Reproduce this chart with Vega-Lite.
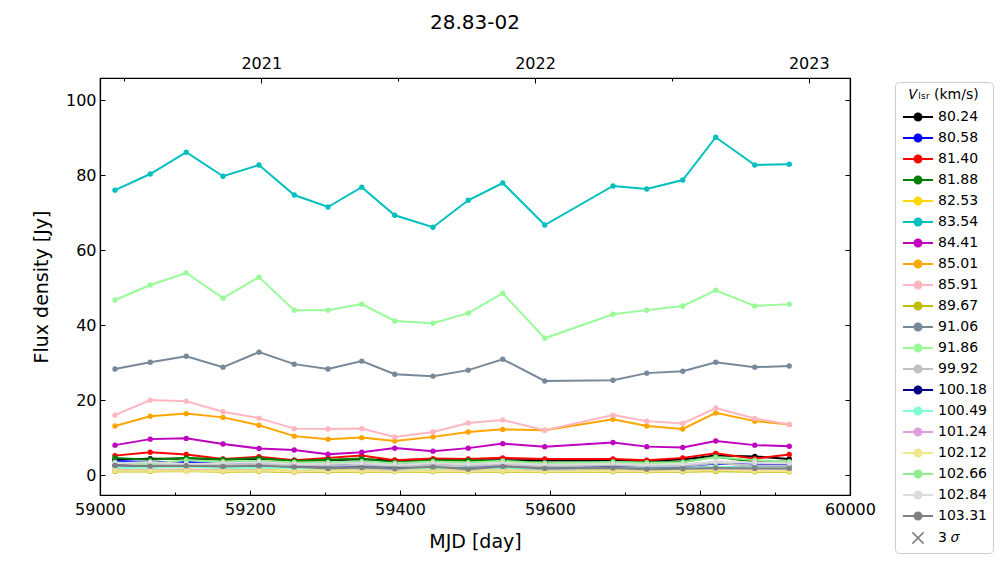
{
  "$schema": "https://vega.github.io/schema/vega-lite/v6.json",
  "autosize": "none",
  "width": 750,
  "height": 417,
  "padding": {"left": 100, "top": 78, "right": 150, "bottom": 67},
  "background": "white",
  "title": {"text": "28.83-02", "fontSize": 20, "fontWeight": "normal", "font": "DejaVu Sans", "color": "black", "anchor": "middle", "offset": 22},
  "config": {
    "font": "DejaVu Sans",
    "view": {"stroke": "black", "strokeWidth": 1.2},
    "axis": {"grid": false, "labelFlush": false, "domainColor": "black", "domainWidth": 1.2, "tickColor": "black", "tickWidth": 1, "labelColor": "black", "labelFont": "DejaVu Sans", "labelFontSize": 16, "titleFont": "DejaVu Sans", "titleFontSize": 19, "titleFontWeight": "normal", "titleColor": "black"}
  },
  "datasets": {
    "flux": [
      {"mjd":59020,"vlsr":"80.24","flux":4.2},{"mjd":59067,"vlsr":"80.24","flux":4.4},{"mjd":59115,"vlsr":"80.24","flux":4.4},{"mjd":59164,"vlsr":"80.24","flux":4.2},{"mjd":59212,"vlsr":"80.24","flux":4.3},{"mjd":59259,"vlsr":"80.24","flux":4.0},{"mjd":59304,"vlsr":"80.24","flux":4.0},{"mjd":59349,"vlsr":"80.24","flux":4.2},{"mjd":59393,"vlsr":"80.24","flux":4.0},{"mjd":59444,"vlsr":"80.24","flux":4.2},{"mjd":59491,"vlsr":"80.24","flux":4.0},{"mjd":59537,"vlsr":"80.24","flux":4.0},{"mjd":59593,"vlsr":"80.24","flux":4.0},{"mjd":59684,"vlsr":"80.24","flux":4.0},{"mjd":59729,"vlsr":"80.24","flux":3.8},{"mjd":59777,"vlsr":"80.24","flux":4.2},{"mjd":59821,"vlsr":"80.24","flux":5.2},{"mjd":59873,"vlsr":"80.24","flux":5.0},{"mjd":59919,"vlsr":"80.24","flux":4.3},
      {"mjd":59020,"vlsr":"80.58","flux":3.8},{"mjd":59067,"vlsr":"80.58","flux":3.5},{"mjd":59115,"vlsr":"80.58","flux":3.5},{"mjd":59164,"vlsr":"80.58","flux":3.0},{"mjd":59212,"vlsr":"80.58","flux":3.1},{"mjd":59259,"vlsr":"80.58","flux":2.9},{"mjd":59304,"vlsr":"80.58","flux":2.8},{"mjd":59349,"vlsr":"80.58","flux":3.2},{"mjd":59393,"vlsr":"80.58","flux":3.0},{"mjd":59444,"vlsr":"80.58","flux":2.8},{"mjd":59491,"vlsr":"80.58","flux":2.6},{"mjd":59537,"vlsr":"80.58","flux":2.6},{"mjd":59593,"vlsr":"80.58","flux":2.6},{"mjd":59684,"vlsr":"80.58","flux":2.6},{"mjd":59729,"vlsr":"80.58","flux":2.3},{"mjd":59777,"vlsr":"80.58","flux":2.4},{"mjd":59821,"vlsr":"80.58","flux":3.0},{"mjd":59873,"vlsr":"80.58","flux":2.8},{"mjd":59919,"vlsr":"80.58","flux":2.7},
      {"mjd":59020,"vlsr":"81.40","flux":5.2},{"mjd":59067,"vlsr":"81.40","flux":6.1},{"mjd":59115,"vlsr":"81.40","flux":5.5},{"mjd":59164,"vlsr":"81.40","flux":4.3},{"mjd":59212,"vlsr":"81.40","flux":4.9},{"mjd":59259,"vlsr":"81.40","flux":4.0},{"mjd":59304,"vlsr":"81.40","flux":4.6},{"mjd":59349,"vlsr":"81.40","flux":5.2},{"mjd":59393,"vlsr":"81.40","flux":4.0},{"mjd":59444,"vlsr":"81.40","flux":4.4},{"mjd":59491,"vlsr":"81.40","flux":4.3},{"mjd":59537,"vlsr":"81.40","flux":4.6},{"mjd":59593,"vlsr":"81.40","flux":4.3},{"mjd":59684,"vlsr":"81.40","flux":4.3},{"mjd":59729,"vlsr":"81.40","flux":4.0},{"mjd":59777,"vlsr":"81.40","flux":4.6},{"mjd":59821,"vlsr":"81.40","flux":5.8},{"mjd":59873,"vlsr":"81.40","flux":4.4},{"mjd":59919,"vlsr":"81.40","flux":5.5},
      {"mjd":59020,"vlsr":"81.88","flux":4.6},{"mjd":59067,"vlsr":"81.88","flux":4.1},{"mjd":59115,"vlsr":"81.88","flux":4.6},{"mjd":59164,"vlsr":"81.88","flux":4.2},{"mjd":59212,"vlsr":"81.88","flux":4.5},{"mjd":59259,"vlsr":"81.88","flux":3.8},{"mjd":59304,"vlsr":"81.88","flux":4.1},{"mjd":59349,"vlsr":"81.88","flux":4.4},{"mjd":59393,"vlsr":"81.88","flux":3.4},{"mjd":59444,"vlsr":"81.88","flux":3.9},{"mjd":59491,"vlsr":"81.88","flux":3.9},{"mjd":59537,"vlsr":"81.88","flux":3.8},{"mjd":59593,"vlsr":"81.88","flux":3.3},{"mjd":59684,"vlsr":"81.88","flux":3.5},{"mjd":59729,"vlsr":"81.88","flux":3.4},{"mjd":59777,"vlsr":"81.88","flux":3.5},{"mjd":59821,"vlsr":"81.88","flux":4.9},{"mjd":59873,"vlsr":"81.88","flux":3.6},{"mjd":59919,"vlsr":"81.88","flux":3.6},
      {"mjd":59020,"vlsr":"82.53","flux":1.5},{"mjd":59067,"vlsr":"82.53","flux":1.4},{"mjd":59115,"vlsr":"82.53","flux":1.5},{"mjd":59164,"vlsr":"82.53","flux":1.3},{"mjd":59212,"vlsr":"82.53","flux":1.4},{"mjd":59259,"vlsr":"82.53","flux":1.2},{"mjd":59304,"vlsr":"82.53","flux":1.3},{"mjd":59349,"vlsr":"82.53","flux":1.3},{"mjd":59393,"vlsr":"82.53","flux":1.2},{"mjd":59444,"vlsr":"82.53","flux":1.3},{"mjd":59491,"vlsr":"82.53","flux":1.2},{"mjd":59537,"vlsr":"82.53","flux":1.3},{"mjd":59593,"vlsr":"82.53","flux":1.2},{"mjd":59684,"vlsr":"82.53","flux":1.3},{"mjd":59729,"vlsr":"82.53","flux":1.2},{"mjd":59777,"vlsr":"82.53","flux":1.3},{"mjd":59821,"vlsr":"82.53","flux":1.5},{"mjd":59873,"vlsr":"82.53","flux":1.3},{"mjd":59919,"vlsr":"82.53","flux":1.3},
      {"mjd":59020,"vlsr":"83.54","flux":76.0},{"mjd":59067,"vlsr":"83.54","flux":80.3},{"mjd":59115,"vlsr":"83.54","flux":86.1},{"mjd":59164,"vlsr":"83.54","flux":79.7},{"mjd":59212,"vlsr":"83.54","flux":82.7},{"mjd":59259,"vlsr":"83.54","flux":74.7},{"mjd":59304,"vlsr":"83.54","flux":71.5},{"mjd":59349,"vlsr":"83.54","flux":76.8},{"mjd":59393,"vlsr":"83.54","flux":69.3},{"mjd":59444,"vlsr":"83.54","flux":66.1},{"mjd":59491,"vlsr":"83.54","flux":73.3},{"mjd":59537,"vlsr":"83.54","flux":77.9},{"mjd":59593,"vlsr":"83.54","flux":66.7},{"mjd":59684,"vlsr":"83.54","flux":77.1},{"mjd":59729,"vlsr":"83.54","flux":76.3},{"mjd":59777,"vlsr":"83.54","flux":78.7},{"mjd":59821,"vlsr":"83.54","flux":90.1},{"mjd":59873,"vlsr":"83.54","flux":82.7},{"mjd":59919,"vlsr":"83.54","flux":82.9},
      {"mjd":59020,"vlsr":"84.41","flux":8.0},{"mjd":59067,"vlsr":"84.41","flux":9.6},{"mjd":59115,"vlsr":"84.41","flux":9.8},{"mjd":59164,"vlsr":"84.41","flux":8.3},{"mjd":59212,"vlsr":"84.41","flux":7.1},{"mjd":59259,"vlsr":"84.41","flux":6.7},{"mjd":59304,"vlsr":"84.41","flux":5.6},{"mjd":59349,"vlsr":"84.41","flux":6.1},{"mjd":59393,"vlsr":"84.41","flux":7.2},{"mjd":59444,"vlsr":"84.41","flux":6.4},{"mjd":59491,"vlsr":"84.41","flux":7.2},{"mjd":59537,"vlsr":"84.41","flux":8.4},{"mjd":59593,"vlsr":"84.41","flux":7.6},{"mjd":59684,"vlsr":"84.41","flux":8.7},{"mjd":59729,"vlsr":"84.41","flux":7.6},{"mjd":59777,"vlsr":"84.41","flux":7.4},{"mjd":59821,"vlsr":"84.41","flux":9.1},{"mjd":59873,"vlsr":"84.41","flux":8.0},{"mjd":59919,"vlsr":"84.41","flux":7.7},
      {"mjd":59020,"vlsr":"85.01","flux":13.1},{"mjd":59067,"vlsr":"85.01","flux":15.7},{"mjd":59115,"vlsr":"85.01","flux":16.4},{"mjd":59164,"vlsr":"85.01","flux":15.4},{"mjd":59212,"vlsr":"85.01","flux":13.3},{"mjd":59259,"vlsr":"85.01","flux":10.4},{"mjd":59304,"vlsr":"85.01","flux":9.6},{"mjd":59349,"vlsr":"85.01","flux":10.0},{"mjd":59393,"vlsr":"85.01","flux":9.1},{"mjd":59444,"vlsr":"85.01","flux":10.2},{"mjd":59491,"vlsr":"85.01","flux":11.5},{"mjd":59537,"vlsr":"85.01","flux":12.2},{"mjd":59593,"vlsr":"85.01","flux":12.0},{"mjd":59684,"vlsr":"85.01","flux":14.9},{"mjd":59729,"vlsr":"85.01","flux":13.1},{"mjd":59777,"vlsr":"85.01","flux":12.3},{"mjd":59821,"vlsr":"85.01","flux":16.6},{"mjd":59873,"vlsr":"85.01","flux":14.4},{"mjd":59919,"vlsr":"85.01","flux":13.5},
      {"mjd":59020,"vlsr":"85.91","flux":16.0},{"mjd":59067,"vlsr":"85.91","flux":20.0},{"mjd":59115,"vlsr":"85.91","flux":19.7},{"mjd":59164,"vlsr":"85.91","flux":16.9},{"mjd":59212,"vlsr":"85.91","flux":15.2},{"mjd":59259,"vlsr":"85.91","flux":12.4},{"mjd":59304,"vlsr":"85.91","flux":12.3},{"mjd":59349,"vlsr":"85.91","flux":12.4},{"mjd":59393,"vlsr":"85.91","flux":10.2},{"mjd":59444,"vlsr":"85.91","flux":11.5},{"mjd":59491,"vlsr":"85.91","flux":13.9},{"mjd":59537,"vlsr":"85.91","flux":14.7},{"mjd":59593,"vlsr":"85.91","flux":12.0},{"mjd":59684,"vlsr":"85.91","flux":16.0},{"mjd":59729,"vlsr":"85.91","flux":14.4},{"mjd":59777,"vlsr":"85.91","flux":13.8},{"mjd":59821,"vlsr":"85.91","flux":17.9},{"mjd":59873,"vlsr":"85.91","flux":15.1},{"mjd":59919,"vlsr":"85.91","flux":13.5},
      {"mjd":59020,"vlsr":"89.67","flux":1.0},{"mjd":59067,"vlsr":"89.67","flux":1.0},{"mjd":59115,"vlsr":"89.67","flux":1.1},{"mjd":59164,"vlsr":"89.67","flux":0.9},{"mjd":59212,"vlsr":"89.67","flux":1.0},{"mjd":59259,"vlsr":"89.67","flux":0.8},{"mjd":59304,"vlsr":"89.67","flux":0.9},{"mjd":59349,"vlsr":"89.67","flux":0.9},{"mjd":59393,"vlsr":"89.67","flux":0.9},{"mjd":59444,"vlsr":"89.67","flux":0.9},{"mjd":59491,"vlsr":"89.67","flux":0.9},{"mjd":59537,"vlsr":"89.67","flux":0.9},{"mjd":59593,"vlsr":"89.67","flux":0.9},{"mjd":59684,"vlsr":"89.67","flux":0.9},{"mjd":59729,"vlsr":"89.67","flux":0.9},{"mjd":59777,"vlsr":"89.67","flux":0.9},{"mjd":59821,"vlsr":"89.67","flux":1.0},{"mjd":59873,"vlsr":"89.67","flux":0.9},{"mjd":59919,"vlsr":"89.67","flux":0.9},
      {"mjd":59020,"vlsr":"91.06","flux":28.3},{"mjd":59067,"vlsr":"91.06","flux":30.1},{"mjd":59115,"vlsr":"91.06","flux":31.7},{"mjd":59164,"vlsr":"91.06","flux":28.8},{"mjd":59212,"vlsr":"91.06","flux":32.8},{"mjd":59259,"vlsr":"91.06","flux":29.6},{"mjd":59304,"vlsr":"91.06","flux":28.3},{"mjd":59349,"vlsr":"91.06","flux":30.4},{"mjd":59393,"vlsr":"91.06","flux":26.9},{"mjd":59444,"vlsr":"91.06","flux":26.4},{"mjd":59491,"vlsr":"91.06","flux":28.0},{"mjd":59537,"vlsr":"91.06","flux":30.9},{"mjd":59593,"vlsr":"91.06","flux":25.1},{"mjd":59684,"vlsr":"91.06","flux":25.3},{"mjd":59729,"vlsr":"91.06","flux":27.2},{"mjd":59777,"vlsr":"91.06","flux":27.7},{"mjd":59821,"vlsr":"91.06","flux":30.1},{"mjd":59873,"vlsr":"91.06","flux":28.8},{"mjd":59919,"vlsr":"91.06","flux":29.1},
      {"mjd":59020,"vlsr":"91.86","flux":46.7},{"mjd":59067,"vlsr":"91.86","flux":50.7},{"mjd":59115,"vlsr":"91.86","flux":53.9},{"mjd":59164,"vlsr":"91.86","flux":47.2},{"mjd":59212,"vlsr":"91.86","flux":52.8},{"mjd":59259,"vlsr":"91.86","flux":44.0},{"mjd":59304,"vlsr":"91.86","flux":44.0},{"mjd":59349,"vlsr":"91.86","flux":45.6},{"mjd":59393,"vlsr":"91.86","flux":41.1},{"mjd":59444,"vlsr":"91.86","flux":40.5},{"mjd":59491,"vlsr":"91.86","flux":43.2},{"mjd":59537,"vlsr":"91.86","flux":48.5},{"mjd":59593,"vlsr":"91.86","flux":36.5},{"mjd":59684,"vlsr":"91.86","flux":42.9},{"mjd":59729,"vlsr":"91.86","flux":44.0},{"mjd":59777,"vlsr":"91.86","flux":45.1},{"mjd":59821,"vlsr":"91.86","flux":49.3},{"mjd":59873,"vlsr":"91.86","flux":45.1},{"mjd":59919,"vlsr":"91.86","flux":45.6},
      {"mjd":59020,"vlsr":"99.92","flux":3.0},{"mjd":59067,"vlsr":"99.92","flux":2.7},{"mjd":59115,"vlsr":"99.92","flux":3.0},{"mjd":59164,"vlsr":"99.92","flux":2.7},{"mjd":59212,"vlsr":"99.92","flux":3.0},{"mjd":59259,"vlsr":"99.92","flux":2.6},{"mjd":59304,"vlsr":"99.92","flux":2.5},{"mjd":59349,"vlsr":"99.92","flux":2.7},{"mjd":59393,"vlsr":"99.92","flux":2.4},{"mjd":59444,"vlsr":"99.92","flux":2.6},{"mjd":59491,"vlsr":"99.92","flux":2.5},{"mjd":59537,"vlsr":"99.92","flux":2.8},{"mjd":59593,"vlsr":"99.92","flux":2.4},{"mjd":59684,"vlsr":"99.92","flux":2.6},{"mjd":59729,"vlsr":"99.92","flux":2.4},{"mjd":59777,"vlsr":"99.92","flux":2.4},{"mjd":59821,"vlsr":"99.92","flux":3.2},{"mjd":59873,"vlsr":"99.92","flux":2.6},{"mjd":59919,"vlsr":"99.92","flux":2.6},
      {"mjd":59020,"vlsr":"100.18","flux":2.6},{"mjd":59067,"vlsr":"100.18","flux":2.3},{"mjd":59115,"vlsr":"100.18","flux":2.4},{"mjd":59164,"vlsr":"100.18","flux":2.2},{"mjd":59212,"vlsr":"100.18","flux":2.3},{"mjd":59259,"vlsr":"100.18","flux":2.1},{"mjd":59304,"vlsr":"100.18","flux":2.0},{"mjd":59349,"vlsr":"100.18","flux":2.1},{"mjd":59393,"vlsr":"100.18","flux":1.9},{"mjd":59444,"vlsr":"100.18","flux":2.0},{"mjd":59491,"vlsr":"100.18","flux":1.9},{"mjd":59537,"vlsr":"100.18","flux":2.0},{"mjd":59593,"vlsr":"100.18","flux":1.8},{"mjd":59684,"vlsr":"100.18","flux":2.0},{"mjd":59729,"vlsr":"100.18","flux":1.8},{"mjd":59777,"vlsr":"100.18","flux":1.9},{"mjd":59821,"vlsr":"100.18","flux":2.1},{"mjd":59873,"vlsr":"100.18","flux":2.0},{"mjd":59919,"vlsr":"100.18","flux":2.0},
      {"mjd":59020,"vlsr":"100.49","flux":2.0},{"mjd":59067,"vlsr":"100.49","flux":2.0},{"mjd":59115,"vlsr":"100.49","flux":2.2},{"mjd":59164,"vlsr":"100.49","flux":1.9},{"mjd":59212,"vlsr":"100.49","flux":2.0},{"mjd":59259,"vlsr":"100.49","flux":1.8},{"mjd":59304,"vlsr":"100.49","flux":1.8},{"mjd":59349,"vlsr":"100.49","flux":1.9},{"mjd":59393,"vlsr":"100.49","flux":1.7},{"mjd":59444,"vlsr":"100.49","flux":1.9},{"mjd":59491,"vlsr":"100.49","flux":1.8},{"mjd":59537,"vlsr":"100.49","flux":1.9},{"mjd":59593,"vlsr":"100.49","flux":1.7},{"mjd":59684,"vlsr":"100.49","flux":1.9},{"mjd":59729,"vlsr":"100.49","flux":1.8},{"mjd":59777,"vlsr":"100.49","flux":1.8},{"mjd":59821,"vlsr":"100.49","flux":2.2},{"mjd":59873,"vlsr":"100.49","flux":1.9},{"mjd":59919,"vlsr":"100.49","flux":1.9},
      {"mjd":59020,"vlsr":"101.24","flux":1.3},{"mjd":59067,"vlsr":"101.24","flux":1.3},{"mjd":59115,"vlsr":"101.24","flux":1.4},{"mjd":59164,"vlsr":"101.24","flux":1.2},{"mjd":59212,"vlsr":"101.24","flux":1.3},{"mjd":59259,"vlsr":"101.24","flux":1.0},{"mjd":59304,"vlsr":"101.24","flux":1.1},{"mjd":59349,"vlsr":"101.24","flux":1.2},{"mjd":59393,"vlsr":"101.24","flux":1.1},{"mjd":59444,"vlsr":"101.24","flux":1.2},{"mjd":59491,"vlsr":"101.24","flux":1.1},{"mjd":59537,"vlsr":"101.24","flux":1.2},{"mjd":59593,"vlsr":"101.24","flux":1.1},{"mjd":59684,"vlsr":"101.24","flux":1.2},{"mjd":59729,"vlsr":"101.24","flux":1.1},{"mjd":59777,"vlsr":"101.24","flux":1.2},{"mjd":59821,"vlsr":"101.24","flux":1.5},{"mjd":59873,"vlsr":"101.24","flux":1.3},{"mjd":59919,"vlsr":"101.24","flux":1.3},
      {"mjd":59020,"vlsr":"102.12","flux":1.2},{"mjd":59067,"vlsr":"102.12","flux":1.2},{"mjd":59115,"vlsr":"102.12","flux":1.2},{"mjd":59164,"vlsr":"102.12","flux":1.1},{"mjd":59212,"vlsr":"102.12","flux":1.2},{"mjd":59259,"vlsr":"102.12","flux":1.0},{"mjd":59304,"vlsr":"102.12","flux":1.1},{"mjd":59349,"vlsr":"102.12","flux":1.1},{"mjd":59393,"vlsr":"102.12","flux":1.0},{"mjd":59444,"vlsr":"102.12","flux":1.1},{"mjd":59491,"vlsr":"102.12","flux":1.0},{"mjd":59537,"vlsr":"102.12","flux":1.1},{"mjd":59593,"vlsr":"102.12","flux":1.0},{"mjd":59684,"vlsr":"102.12","flux":1.1},{"mjd":59729,"vlsr":"102.12","flux":1.0},{"mjd":59777,"vlsr":"102.12","flux":1.1},{"mjd":59821,"vlsr":"102.12","flux":1.3},{"mjd":59873,"vlsr":"102.12","flux":1.1},{"mjd":59919,"vlsr":"102.12","flux":1.1},
      {"mjd":59020,"vlsr":"102.66","flux":3.4},{"mjd":59067,"vlsr":"102.66","flux":3.0},{"mjd":59115,"vlsr":"102.66","flux":4.0},{"mjd":59164,"vlsr":"102.66","flux":3.6},{"mjd":59212,"vlsr":"102.66","flux":3.8},{"mjd":59259,"vlsr":"102.66","flux":3.4},{"mjd":59304,"vlsr":"102.66","flux":3.4},{"mjd":59349,"vlsr":"102.66","flux":3.6},{"mjd":59393,"vlsr":"102.66","flux":3.2},{"mjd":59444,"vlsr":"102.66","flux":3.6},{"mjd":59491,"vlsr":"102.66","flux":3.3},{"mjd":59537,"vlsr":"102.66","flux":3.8},{"mjd":59593,"vlsr":"102.66","flux":3.2},{"mjd":59684,"vlsr":"102.66","flux":3.5},{"mjd":59729,"vlsr":"102.66","flux":3.3},{"mjd":59777,"vlsr":"102.66","flux":3.4},{"mjd":59821,"vlsr":"102.66","flux":4.8},{"mjd":59873,"vlsr":"102.66","flux":4.0},{"mjd":59919,"vlsr":"102.66","flux":3.6},
      {"mjd":59020,"vlsr":"102.84","flux":3.2},{"mjd":59067,"vlsr":"102.84","flux":3.5},{"mjd":59115,"vlsr":"102.84","flux":3.0},{"mjd":59164,"vlsr":"102.84","flux":3.2},{"mjd":59212,"vlsr":"102.84","flux":3.4},{"mjd":59259,"vlsr":"102.84","flux":3.0},{"mjd":59304,"vlsr":"102.84","flux":3.0},{"mjd":59349,"vlsr":"102.84","flux":3.2},{"mjd":59393,"vlsr":"102.84","flux":2.8},{"mjd":59444,"vlsr":"102.84","flux":3.1},{"mjd":59491,"vlsr":"102.84","flux":2.9},{"mjd":59537,"vlsr":"102.84","flux":3.2},{"mjd":59593,"vlsr":"102.84","flux":2.8},{"mjd":59684,"vlsr":"102.84","flux":3.0},{"mjd":59729,"vlsr":"102.84","flux":2.7},{"mjd":59777,"vlsr":"102.84","flux":2.9},{"mjd":59821,"vlsr":"102.84","flux":3.6},{"mjd":59873,"vlsr":"102.84","flux":3.4},{"mjd":59919,"vlsr":"102.84","flux":3.2},
      {"mjd":59020,"vlsr":"103.31","flux":2.6},{"mjd":59067,"vlsr":"103.31","flux":2.4},{"mjd":59115,"vlsr":"103.31","flux":2.5},{"mjd":59164,"vlsr":"103.31","flux":2.3},{"mjd":59212,"vlsr":"103.31","flux":2.5},{"mjd":59259,"vlsr":"103.31","flux":2.2},{"mjd":59304,"vlsr":"103.31","flux":1.8},{"mjd":59349,"vlsr":"103.31","flux":2.0},{"mjd":59393,"vlsr":"103.31","flux":1.7},{"mjd":59444,"vlsr":"103.31","flux":2.2},{"mjd":59491,"vlsr":"103.31","flux":1.6},{"mjd":59537,"vlsr":"103.31","flux":2.3},{"mjd":59593,"vlsr":"103.31","flux":1.8},{"mjd":59684,"vlsr":"103.31","flux":1.9},{"mjd":59729,"vlsr":"103.31","flux":1.6},{"mjd":59777,"vlsr":"103.31","flux":1.7},{"mjd":59821,"vlsr":"103.31","flux":1.9},{"mjd":59873,"vlsr":"103.31","flux":1.8},{"mjd":59919,"vlsr":"103.31","flux":1.8}
    ]
  },
  "data": {"name": "flux"},
  "resolve": {"axis": {"x": "independent", "y": "independent"}},
  "layer": [
    {
      "mark": {"type": "line", "strokeWidth": 2, "clip": true},
      "encoding": {
        "x": {"field": "mjd", "type": "quantitative", "scale": {"domain": [59000, 60000], "nice": false, "zero": false},
              "axis": {"orient": "bottom", "values": [59000, 59200, 59400, 59600, 59800, 60000], "tickSize": -5, "labelPadding": 11, "format": "d", "title": "MJD [day]", "titlePadding": 15}},
        "y": {"field": "flux", "type": "quantitative", "scale": {"domain": [-5.3, 105.9], "nice": false, "zero": false},
              "axis": {"orient": "left", "values": [0, 20, 40, 60, 80, 100], "tickSize": -5, "labelPadding": 9, "title": "Flux density [Jy]", "titlePadding": 14}},
        "color": {"field": "vlsr", "type": "nominal",
                  "scale": {"domain": ["80.24","80.58","81.40","81.88","82.53","83.54","84.41","85.01","85.91","89.67","91.06","91.86","99.92","100.18","100.49","101.24","102.12","102.66","102.84","103.31","3 𝜎"],
                            "range": ["#000000","#0000ff","#ff0000","#008000","#ffd700","#00bfbf","#bf00bf","#ffa500","#ffb6c1","#bfbf00","#778899","#98fb98","#c0c0c0","#000080","#7fffd4","#dda0dd","#f0e68c","#90ee90","#dcdcdc","#808080","#808080"]},
                  "legend": {
                    "title": "𝑉ₗₛᵣ (km/s)", "orient": "none", "legendX": 795, "legendY": 4,
                    "titleFontSize": 14, "titleFontWeight": "normal", "titleFont": "DejaVu Sans", "titleColor": "black", "titleAnchor": "middle", "titlePadding": 8,
                    "labelFontSize": 14, "labelFont": "DejaVu Sans", "labelColor": "black", "labelOffset": 13,
                    "symbolType": "M-4.3,0L4.3,0M1,0A1,1,0,1,1,-1,0A1,1,0,1,1,1,0Z",
                    "symbolSize": 49, "symbolOffset": 10, "symbolStrokeWidth": 2,
                    "rowPadding": 5, "padding": 6, "fillColor": "white", "strokeColor": "#cccccc", "cornerRadius": 4,
                    "encode": {"symbols": {"update": {
                      "fill": {"scale": "color", "field": "value"},
                      "shape": {"signal": "datum.value === '3 𝜎' ? 'M-1.6,-1.6L1.6,1.6M-1.6,1.6L1.6,-1.6' : 'M-4.3,0L4.3,0M1,0A1,1,0,1,1,-1,0A1,1,0,1,1,1,0Z'"},
                      "strokeWidth": {"signal": "datum.value === '3 𝜎' ? 1.6 : 2"}
                    }}}
                  }}
      }
    },
    {
      "mark": {"type": "point", "filled": true, "opacity": 1, "size": 28, "shape": "circle"},
      "encoding": {
        "x": {"field": "mjd", "type": "quantitative",
              "axis": {"orient": "top", "values": [59215, 59580, 59945], "labelExpr": "datum.value < 59400 ? '2021' : (datum.value < 59800 ? '2022' : '2023')", "tickSize": -5, "labelPadding": 12, "title": null}},
        "y": {"field": "flux", "type": "quantitative",
              "axis": {"orient": "right", "values": [0, 20, 40, 60, 80, 100], "tickSize": -5, "labels": false, "title": null}},
        "color": {"field": "vlsr", "type": "nominal", "legend": null}
      }
    },
    {
      "mark": {"type": "point", "opacity": 0},
      "encoding": {
        "x": {"field": "mjd", "type": "quantitative",
              "axis": {"orient": "bottom", "values": [59100, 59300, 59500, 59700, 59900], "tickSize": -3, "labels": false, "domain": false, "title": null}},
        "y": {"field": "flux", "type": "quantitative", "axis": null}
      }
    },
    {
      "mark": {"type": "point", "opacity": 0},
      "encoding": {
        "x": {"field": "mjd", "type": "quantitative",
              "axis": {"orient": "top", "values": [59032, 59397, 59762], "tickSize": -3, "labels": false, "domain": false, "title": null}},
        "y": {"field": "flux", "type": "quantitative", "axis": null}
      }
    }
  ]
}
